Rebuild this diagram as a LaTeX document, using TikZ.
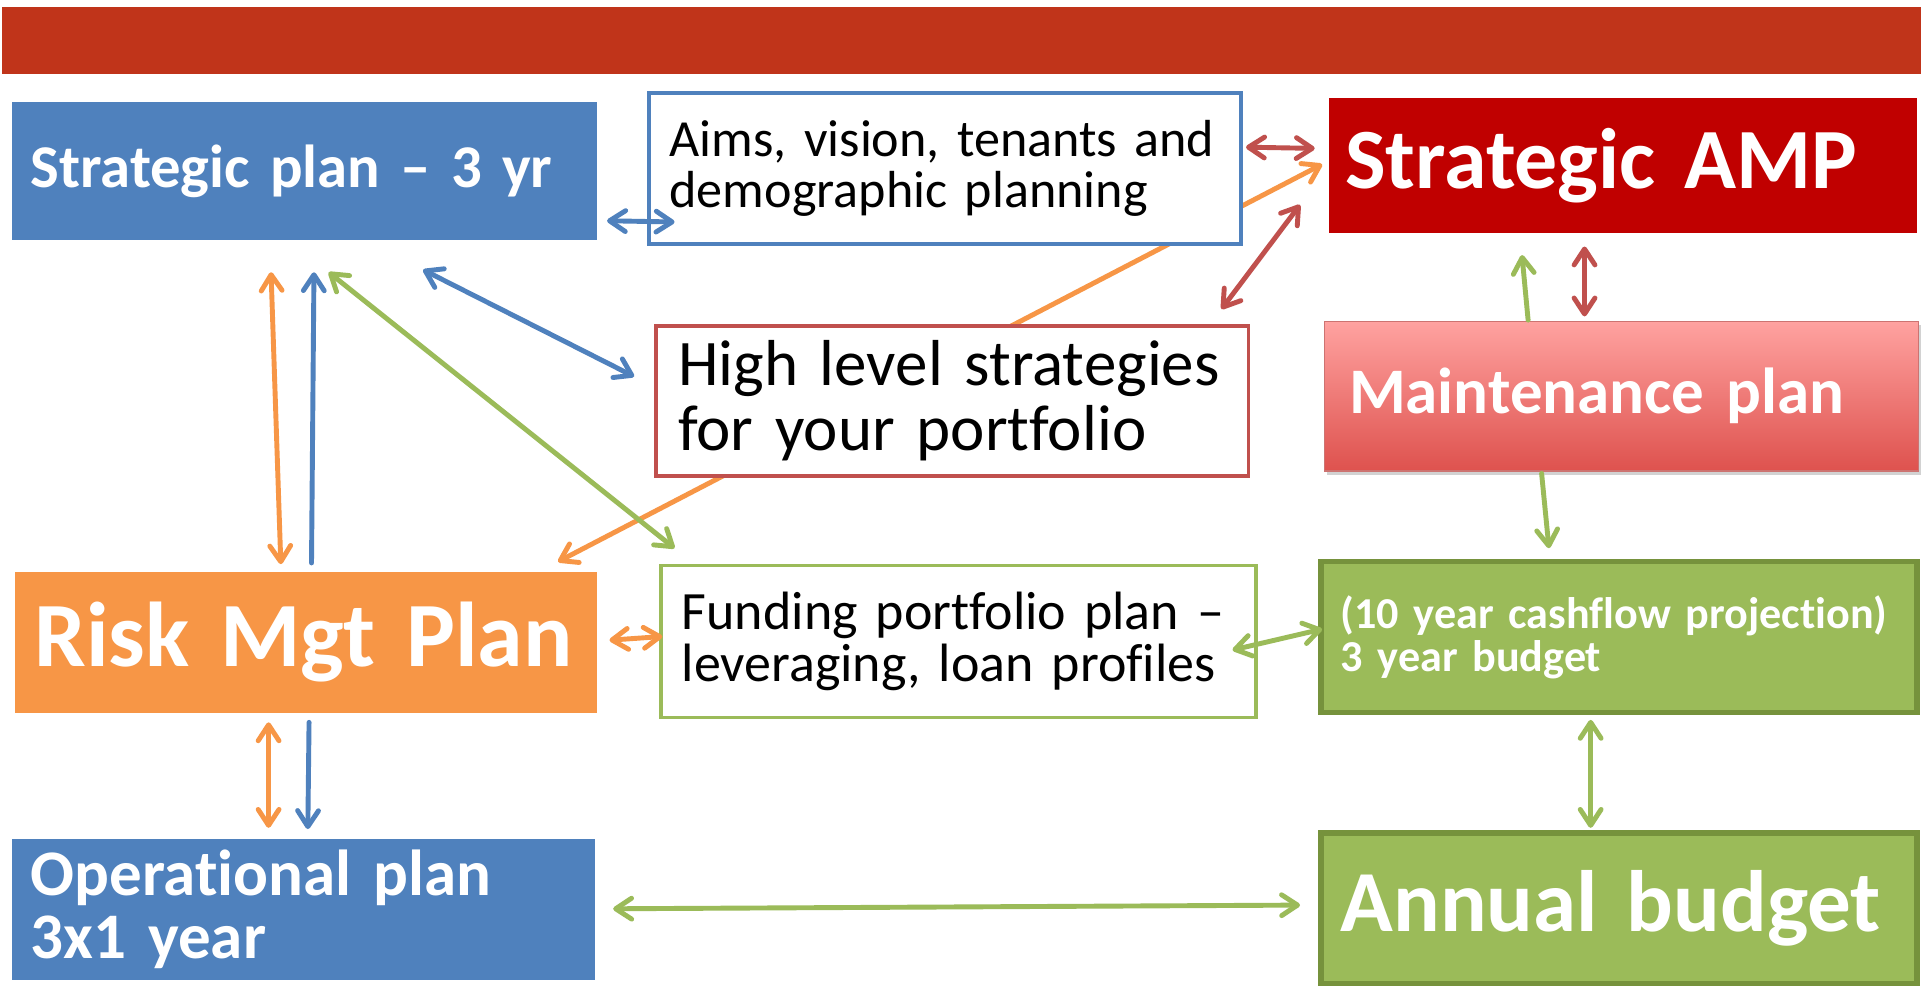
\documentclass[tikz,border=0pt]{standalone}
\usepackage{fontspec}
\setmainfont{Carlito}[Ligatures=NoCommon]
\usetikzlibrary{arrows.meta,calc,backgrounds,shadows}
\definecolor{barred}{RGB}{192,52,26}
\definecolor{ablue}{RGB}{79,129,189}
\definecolor{ampred}{RGB}{192,0,0}
\definecolor{aorange}{RGB}{247,150,70}
\definecolor{agreen}{RGB}{155,187,89}
\definecolor{dgreen}{RGB}{118,146,60}
\definecolor{ared}{RGB}{192,80,77}
\definecolor{mtop}{RGB}{255,162,160}
\definecolor{mmid}{RGB}{255,140,138}
\definecolor{mbot}{RGB}{222,82,78}
\tikzset{
  box/.style={rectangle, outer sep=0pt, inner ysep=0pt, align=left},
  solidbox/.style={box, fill=#1, text=white},
  linebox/.style={box, fill=white, draw=#1, line width=3pt, text=black},
  greenbox/.style={box, fill=agreen, draw=dgreen, line width=4.5pt, text=white},
  tip/.tip={Straight Barb[length=13pt,width=17pt,round]},
  lnk/.style={line width=4pt, line cap=round, tip-tip},
  lnkto/.style={line width=4pt, line cap=round, -tip},
}
\begin{document}
\begin{tikzpicture}[x=1pt,y=-1pt]
\useasboundingbox (0,0) rectangle (1568,806);
% boxes
\node[solidbox=ablue, minimum height=113pt, text width=447pt, inner xsep=15pt,
  font=\bfseries\fontsize{49.5}{48}\selectfont] (sp) at (248.5,139.5) {\mbox{Strategic plan – 3 yr}};
\node[linebox=ablue, minimum height=123pt, text width=449pt, inner xsep=17pt,
  font=\fontsize{42.5}{41.6}\selectfont] (aims) at (770.5,137.5) {\mbox{Aims, vision, tenants and}\\\mbox{demographic planning}};
\node[solidbox=ampred, minimum height=110pt, text width=453pt, inner xsep=13pt,
  font=\bfseries\fontsize{70}{68}\selectfont] (amp) at (1323.5,135) {\mbox{Strategic AMP}};
\node[linebox=ared, minimum height=122pt, text width=447pt, inner xsep=18pt,
  font=\fontsize{53}{53}\selectfont] (hl) at (776.5,327) {\mbox{High level strategies}\\\mbox{for your portfolio}};
\node[box, top color=mtop, middle color=mmid, bottom color=mbot, draw=ared!80, line width=1pt, text=white,
  drop shadow={opacity=0.35, shadow xshift=2pt, shadow yshift=-3pt},
  minimum height=122pt, text width=444pt, inner xsep=20pt,
  font=\bfseries\fontsize{53}{52}\selectfont] (mp) at (1322,323) {\mbox{Maintenance plan}};
\node[solidbox=aorange, minimum height=115pt, text width=443pt, inner xsep=16pt,
  font=\bfseries\fontsize{75}{73}\selectfont] (risk) at (249.5,523.5) {\mbox{Risk Mgt Plan}};
\node[linebox=agreen, minimum height=124pt, text width=451pt, inner xsep=17pt,
  font=\fontsize{44}{42.6}\selectfont] (fund) at (781.5,523) {\mbox{Funding portfolio plan –}\\\mbox{leveraging, loan profiles}};
\node[greenbox, minimum height=123pt, text width=454pt, inner xsep=16pt,
  font=\bfseries\fontsize{36}{35}\selectfont] (cash) at (1320,519.5) {\mbox{(10 year cashflow projection)}\\\mbox{3 year budget}};
\node[solidbox=ablue, minimum height=115pt, text width=445pt, inner xsep=15pt,
  font=\bfseries\fontsize{53}{52}\selectfont] (op) at (247.5,741.5) {\mbox{Operational plan}\\\mbox{3x1 year}};
\node[greenbox, minimum height=123pt, text width=454pt, inner xsep=16pt,
  font=\bfseries\fontsize{71}{70}\selectfont] (ann) at (1320,740.5) {\mbox{Annual budget}};
% title bar
\fill[barred] (2,6) rectangle (1566,60);
% background: white page and the long orange connector behind the boxes
\begin{pgfonlayer}{background}
\fill[white] (0,0) rectangle (1568,806);
\draw[lnk, aorange] ($(risk.north east)+(-32,-8)$) -- ($(amp.west)+(-6,-1)$);
\end{pgfonlayer}
% connectors
\draw[lnk, ablue] ($(sp.south east)+(8,-16)$) -- ($(aims.south west)+(21,-18)$);
\draw[lnk, ared] ($(aims.east)+(4,-17.5)$) -- ($(amp.west)+(-12,-14)$);
\draw[lnk, ared] ($(hl.north east)+(-22,-14)$) -- ($(amp.south west)+(-24,-23)$);
\draw[lnk, ablue] ($(sp.south)+(96.5,24)$) -- ($(hl.west)+(-18,-20)$);
\draw[lnk, agreen] ($(sp.south)+(19.5,26)$) -- ($(fund.north west)+(11,-14)$);
\draw[lnk, aorange] ($(sp.south)+(-27.5,26)$) -- ($(risk.north)+(-20.5,-6)$);
\draw[lnkto, ablue] ($(risk.north)+(4.5,-7)$) -- ($(sp.south)+(7.5,26)$);
\draw[lnk, aorange] ($(risk.south)+(-30.5,8)$) -- ($(op.north)+(-28.5,-9)$);
\draw[lnkto, ablue] ($(risk.south)+(2.5,8)$) -- ($(op.north)+(3.5,-8)$);
\draw[lnk, aorange] ($(risk.east)+(10,-1.5)$) -- ($(fund.west)+(1,-4)$);
\draw[lnk, agreen] ($(fund.east)+(-19,7)$) -- ($(cash.west)+(1,-6.5)$);
\draw[lnkto, agreen] ($(mp.north)+(-76,-1)$) -- ($(amp.south)+(-82.5,18)$);
\draw[lnk, ared] ($(amp.south)+(-31.5,11)$) -- ($(mp.north)+(-30,-4)$);
\draw[lnkto, agreen] ($(mp.south)+(-65,2)$) -- ($(cash.north)+(-57,-11)$);
\draw[lnk, agreen] ($(cash.south)+(-23,6)$) -- ($(ann.north)+(-23,-4)$);
\draw[lnk, agreen] ($(op.east)+(15,-0.5)$) -- ($(ann.west)+(-17,-2.5)$);
\end{tikzpicture}
\end{document}
